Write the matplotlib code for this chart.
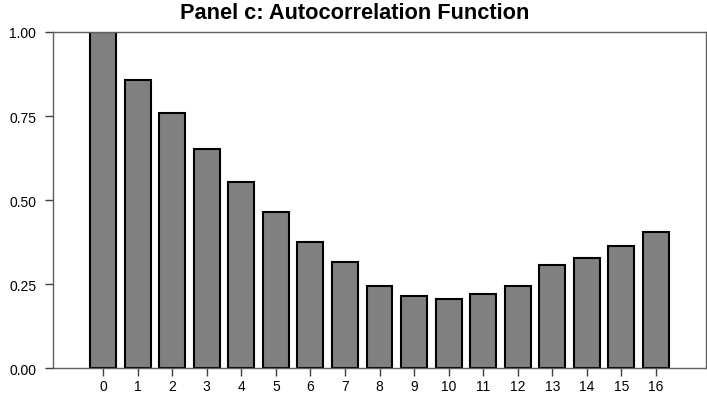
import matplotlib
matplotlib.use("Agg")
import matplotlib.pyplot as plt

lags = list(range(17))
acf = [1.000, 0.856, 0.758, 0.652, 0.555, 0.464, 0.376, 0.315, 0.246,
       0.215, 0.207, 0.221, 0.245, 0.306, 0.329, 0.365, 0.405]
yticks = [0.00, 0.25, 0.50, 0.75, 1.00]

plt.rcParams['font.family'] = ['Liberation Sans', 'DejaVu Sans']

fig = plt.figure(figsize=(7.07, 4.02), dpi=100)
ax = fig.add_axes([0.075, 0.081, 0.9236, 0.837])

ax.bar(lags, acf, width=0.75, color='#808080', edgecolor='black', linewidth=1.5)

ax.set_xlim(-1.45, 17.45)
ax.set_ylim(0, 1.0)
ax.set_xticks(lags)
ax.set_xticklabels([str(l) for l in lags])
ax.set_yticks(yticks)
ax.set_yticklabels(["%.2f" % v for v in yticks])
ax.tick_params(axis='both', direction='out', length=6, width=1, colors='#404040',
               labelcolor='black', labelsize=10)
ax.tick_params(axis='y', pad=6)
ax.tick_params(axis='x', pad=1.5)

for s in ax.spines.values():
    s.set_color('#606060')
    s.set_linewidth(1)

fig.text(0.502, 0.952, "Panel c: Autocorrelation Function", fontsize=15.7,
         fontweight='bold', ha='center', va='baseline')

fig.savefig("out.png", dpi=100)
